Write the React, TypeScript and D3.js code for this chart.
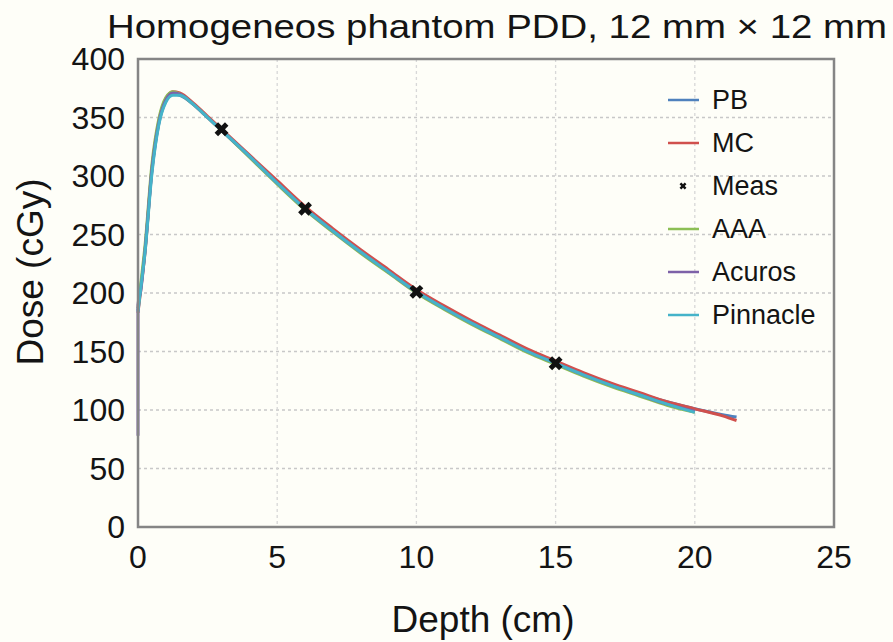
import { FC, useMemo } from 'react';
import * as d3 from 'd3';

// depth in cm, dose in cGy
const depthLong = [0, 0.1, 0.25, 0.5, 0.75, 1, 1.25, 1.5, 2, 2.5, 3, 4, 5, 6, 7, 8, 9, 10, 11, 12, 13, 14, 15, 16, 17, 18, 19, 20, 21, 21.5];
const depthShort = [0, 0.1, 0.25, 0.5, 0.75, 1, 1.25, 1.5, 2, 2.5, 3, 4, 5, 6, 7, 8, 9, 10, 11, 12, 13, 14, 15, 16, 17, 18, 19, 20];
const depthAcuros = [0, 0, 0.1, 0.25, 0.5, 0.75, 1, 1.25, 1.5, 2, 2.5, 3, 4, 5, 6, 7, 8, 9, 10, 11, 12, 13, 14, 15, 16, 17, 18, 19, 20];

const pbDose = [185, 205, 236, 304, 345, 364, 370, 369, 361, 350, 339, 317, 295, 273, 254, 236, 219, 202, 188, 175, 163, 151, 141, 131, 122, 114, 107, 101, 96, 94];
const mcDose = [183, 203, 234, 306, 347, 366, 372, 371, 362, 351, 340, 318, 296, 274, 255, 237, 220, 203, 189, 176, 164, 152, 142, 132, 123, 115, 107, 101, 95, 91];
const aaaDose = [187, 208, 240, 310, 349, 367, 372, 370, 361, 350, 339, 316, 293, 271, 252, 234, 217, 200, 186, 173, 161, 149, 139, 129, 120, 112, 104, 98];
const acurosDose = [78, 190, 202, 236, 306, 346, 365, 371, 370, 361, 350, 339, 317, 294, 272, 253, 235, 218, 201, 187, 174, 162, 150, 140, 130, 121, 113, 105, 99];
const pinnacleDose = [184, 204, 234, 302, 344, 363, 369, 369, 361, 350, 339, 317, 294, 272, 253, 235, 218, 201, 187, 174, 162, 150, 140, 130, 121, 113, 105, 98];

const measDepth = [3, 6, 10, 15];
const measDose = [340, 272, 201, 140];

const xTicks = [0, 5, 10, 15, 20, 25];
const yTicks = [0, 50, 100, 150, 200, 250, 300, 350, 400];

const legendNames = ['PB', 'MC', 'Meas', 'AAA', 'Acuros', 'Pinnacle'];

const WIDTH = 893;
const HEIGHT = 642;
const PLOT = { left: 138, right: 834, top: 59, bottom: 527 };
const FONT = "'Liberation Sans', Arial, Helvetica, sans-serif";
const BG = '#fefef8';
const INK = '#141414';

type Pt = [number, number];
const zip = (xs: number[], ys: number[]): Pt[] => ys.map((y, i) => [xs[i], y]);

const App: FC = () => {
  const xScale = useMemo(() => d3.scaleLinear().domain([0, 25]).range([PLOT.left, PLOT.right]), []);
  const yScale = useMemo(() => d3.scaleLinear().domain([0, 400]).range([PLOT.bottom, PLOT.top]), []);

  const series = [
    { name: 'PB', color: '#4f81bd', pts: zip(depthLong, pbDose) },
    { name: 'MC', color: '#d0504d', pts: zip(depthLong, mcDose) },
    { name: 'AAA', color: '#8cbf55', pts: zip(depthShort, aaaDose) },
    { name: 'Acuros', color: '#7d61a8', pts: zip(depthAcuros, acurosDose) },
    { name: 'Pinnacle', color: '#45b3c9', pts: zip(depthShort, pinnacleDose) },
  ];

  const line = d3.line<Pt>()
    .x((d) => xScale(d[0]))
    .y((d) => yScale(d[1]))
    .curve(d3.curveMonotoneX);

  const marker = d3.symbol(d3.symbolCross, 120)() as string;

  return (
    <svg width={WIDTH} height={HEIGHT} style={{ position: 'absolute', left: 0, top: 0, background: BG }}>
      <rect x={0} y={0} width={WIDTH} height={HEIGHT} fill={BG} />
      <text x={497} y={38} textAnchor="middle" fontFamily={FONT} fontSize={34} fill={INK}
        textLength={780} lengthAdjust="spacingAndGlyphs">
        Homogeneos phantom PDD, 12 mm × 12 mm
      </text>

      {/* grid */}
      {yTicks.slice(1, -1).map((t) => (
        <line key={'gy' + t} x1={PLOT.left} x2={PLOT.right} y1={yScale(t)} y2={yScale(t)}
          stroke="#c8c8c8" strokeWidth={1.3} strokeDasharray="3,3" />
      ))}
      {xTicks.slice(1, -1).map((t) => (
        <line key={'gx' + t} x1={xScale(t)} x2={xScale(t)} y1={PLOT.top} y2={PLOT.bottom}
          stroke="#d8d8d8" strokeWidth={1.3} strokeDasharray="3,3" />
      ))}

      {/* curves */}
      {series.map((s) => (
        <path key={s.name} d={line(s.pts) || ''} fill="none" stroke={s.color} strokeWidth={3} strokeLinejoin="round" />
      ))}

      {/* measurements */}
      {measDepth.map((d, i) => (
        <path key={'m' + d} d={marker} fill="#111"
          transform={`translate(${xScale(d)},${yScale(measDose[i])}) rotate(45)`} />
      ))}

      {/* frame */}
      <rect x={PLOT.left} y={PLOT.top} width={PLOT.right - PLOT.left} height={PLOT.bottom - PLOT.top}
        fill="none" stroke="#858585" strokeWidth={2.5} />

      {/* tick labels */}
      {yTicks.map((t) => (
        <text key={'yt' + t} x={125} y={yScale(t)} dy="0.35em" textAnchor="end"
          fontFamily={FONT} fontSize={32} fill={INK}>{t}</text>
      ))}
      {xTicks.map((t) => (
        <text key={'xt' + t} x={xScale(t)} y={568} textAnchor="middle"
          fontFamily={FONT} fontSize={32} fill={INK}>{t}</text>
      ))}

      {/* axis titles */}
      <text x={483} y={632} textAnchor="middle" fontFamily={FONT} fontSize={37} fill={INK}>Depth (cm)</text>
      <text transform="translate(43,272) rotate(-90)" textAnchor="middle" fontFamily={FONT} fontSize={37} fill={INK}>Dose (cGy)</text>

      {/* legend */}
      {legendNames.map((name, i) => {
        const y = 100 + i * 43;
        const s = series.find((q) => q.name === name);
        return (
          <g key={'lg' + name}>
            {s ? (
              <line x1={668} x2={699} y1={y} y2={y} stroke={s.color} strokeWidth={2.5} />
            ) : (
              <path d={d3.symbol(d3.symbolCross, 30)() as string} fill="#111" transform={`translate(683,${y}) rotate(45)`} />
            )}
            <text x={712} y={y} dy="0.35em" fontFamily={FONT} fontSize={27} fill={INK}>{name}</text>
          </g>
        );
      })}
    </svg>
  );
};

export default App;
